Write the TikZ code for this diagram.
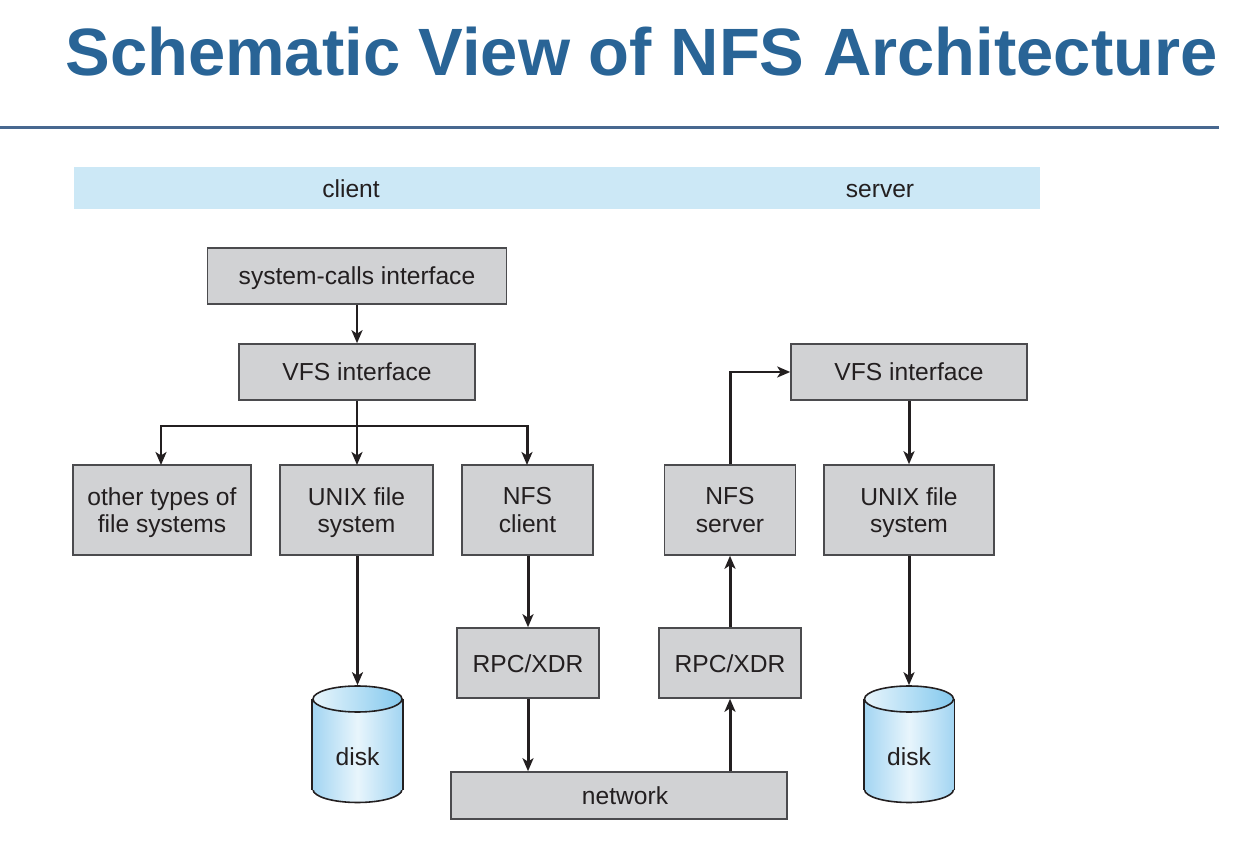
\documentclass[tikz,border=0pt]{standalone}
\usepackage{fontspec}
\setmainfont{Liberation Sans}
\usetikzlibrary{arrows.meta,shapes.geometric}
\definecolor{box_grey}{RGB}{209, 210, 212}
\definecolor{box_line}{RGB}{75, 75, 78}
\definecolor{band_blue}{RGB}{204, 232, 246}
\definecolor{title_blue}{RGB}{41, 100, 150}
\definecolor{rule_blue}{RGB}{72, 104, 144}
\definecolor{disk_edge}{RGB}{163, 213, 242}
\definecolor{disk_mid}{RGB}{232, 245, 252}
\definecolor{disk_top}{RGB}{132, 201, 238}
\definecolor{arrow_ink}{RGB}{35, 31, 32}
\tikzstyle{gb}=[rectangle,fill=box_grey,draw=box_line,line width=0.9pt,text=arrow_ink,
  inner sep=0pt,align=center,text depth=0pt,font=\fontsize{14}{15.6}\selectfont]
\tikzstyle{bd}=[rectangle,fill=band_blue,inner sep=0pt,minimum width=19.32cm,minimum height=0.84cm]
\tikzstyle{lb}=[inner sep=0pt,anchor=base,text=arrow_ink,font=\fontsize{14}{15.6}\selectfont]
\tikzstyle{ttl}=[inner sep=0pt,text=title_blue,font=\fontsize{38.1}{44}\selectfont\bfseries]
\tikzstyle{dk}=[rectangle,inner sep=0pt,minimum width=1.78cm,minimum height=1.81cm,
  left color=disk_edge,right color=disk_edge,middle color=disk_mid]
\tikzstyle{db}=[ellipse,draw=arrow_ink,line width=0.9pt,inner sep=0pt,minimum width=1.78cm,minimum height=0.52cm,
  left color=disk_edge,right color=disk_edge,middle color=disk_mid]
\tikzstyle{dt}=[ellipse,draw=arrow_ink,line width=0.9pt,inner sep=0pt,minimum width=1.78cm,minimum height=0.52cm,
  left color=disk_mid,right color=disk_top]
\tikzstyle{dl}=[draw=arrow_ink,line width=0.9pt]
\tikzstyle{ar}=[-{Stealth[length=0.26cm,width=0.22cm,inset=0.07cm]},draw=arrow_ink,line width=1.7pt]
\tikzstyle{ln}=[draw=arrow_ink,line width=1.7pt]
\tikzstyle{none}=[inner sep=0pt]
\begin{document}
\begin{tikzpicture}
            \useasboundingbox (0, 0) rectangle (25.12, 17.32);
            \node [style=ttl] (0) at (12.83, 16.28) {Schematic View of NFS Architecture};
            \node [style=none] (1) at (0, 14.76) {};
            \node [style=none] (2) at (24.38, 14.76) {};
            \draw [rule_blue, line width=1.7pt] (1.center) to (2.center);
            \node [style=bd] (3) at (11.14, 13.56) {};
            \node [style=lb] (4) at (7.02, 13.36) {client};
            \node [style=lb] (5) at (17.6, 13.36) {server};
            \node [style=gb, minimum width=5.98cm, minimum height=1.12cm] (6) at (7.14, 11.8) {system-calls interface};
            \node [style=gb, minimum width=4.72cm, minimum height=1.12cm] (7) at (7.14, 9.88) {VFS interface};
            \node [style=gb, minimum width=4.72cm, minimum height=1.12cm] (8) at (18.18, 9.88) {VFS interface};
            \node [style=gb, minimum width=3.56cm, minimum height=1.8cm] (9) at (3.24, 7.12) {other types of\\file systems};
            \node [style=gb, minimum width=3.06cm, minimum height=1.8cm] (10) at (7.13, 7.12) {UNIX file\\system};
            \node [style=gb, minimum width=2.62cm, minimum height=1.8cm] (11) at (10.55, 7.12) {NFS\\client};
            \node [style=gb, minimum width=2.62cm, minimum height=1.8cm] (12) at (14.6, 7.12) {NFS\\server};
            \node [style=gb, minimum width=3.4cm, minimum height=1.8cm] (13) at (18.18, 7.12) {UNIX file\\system};
            \node [style=gb, minimum width=2.84cm, minimum height=1.4cm] (14) at (10.56, 4.06) {\raisebox{-0.04cm}{RPC/XDR}};
            \node [style=gb, minimum width=2.84cm, minimum height=1.4cm] (15) at (14.6, 4.06) {\raisebox{-0.04cm}{RPC/XDR}};
            \node [style=gb, minimum width=6.72cm, minimum height=0.94cm] (16) at (12.38, 1.41) {\hspace{0.24cm}network};
            \node [style=db] (17) at (7.15, 1.53) {};
            \node [style=dk] (18) at (7.15, 2.435) {};
            \node [style=dt] (19) at (7.15, 3.34) {};
            \draw [style=dl] (19.west) to (17.west);
            \draw [style=dl] (19.east) to (17.east);
            \node [style=lb] (20) at (7.15, 2.02) {disk};
            \node [style=db] (21) at (18.18, 1.53) {};
            \node [style=dk] (22) at (18.18, 2.435) {};
            \node [style=dt] (23) at (18.18, 3.34) {};
            \draw [style=dl] (23.west) to (21.west);
            \draw [style=dl] (23.east) to (21.east);
            \node [style=lb] (24) at (18.18, 2.02) {disk};
            \node [style=none] (25) at (7.14, 8.8) {};
            \node [style=none] (26) at (3.22, 8.8) {};
            \node [style=none] (27) at (10.54, 8.8) {};
            \draw [style=ar] (6) to (7);
            \draw [style=ln] (7) to (25.center);
            \draw [style=ar] (25.center) to (7.14, 8.02);
            \draw [style=ar] (26.center) to (3.22, 8.02);
            \draw [style=ar] (27.center) to (10.54, 8.02);
            \draw [style=ln, line cap=rect] (26.center) to (27.center);
            \draw [style=ar] (10.south -| 19) to (19);
            \draw [style=ar] (11.south -| 14) to (14);
            \draw [style=ar] (14) to (14 |- 16.north);
            \draw [style=ar] (16.north -| 15) to (15);
            \draw [style=ar] (15) to (12);
            \draw [style=ar] (12) |- (8);
            \draw [style=ar] (8) to (13);
            \draw [style=ar] (13) to (23);
\end{tikzpicture}
\end{document}
